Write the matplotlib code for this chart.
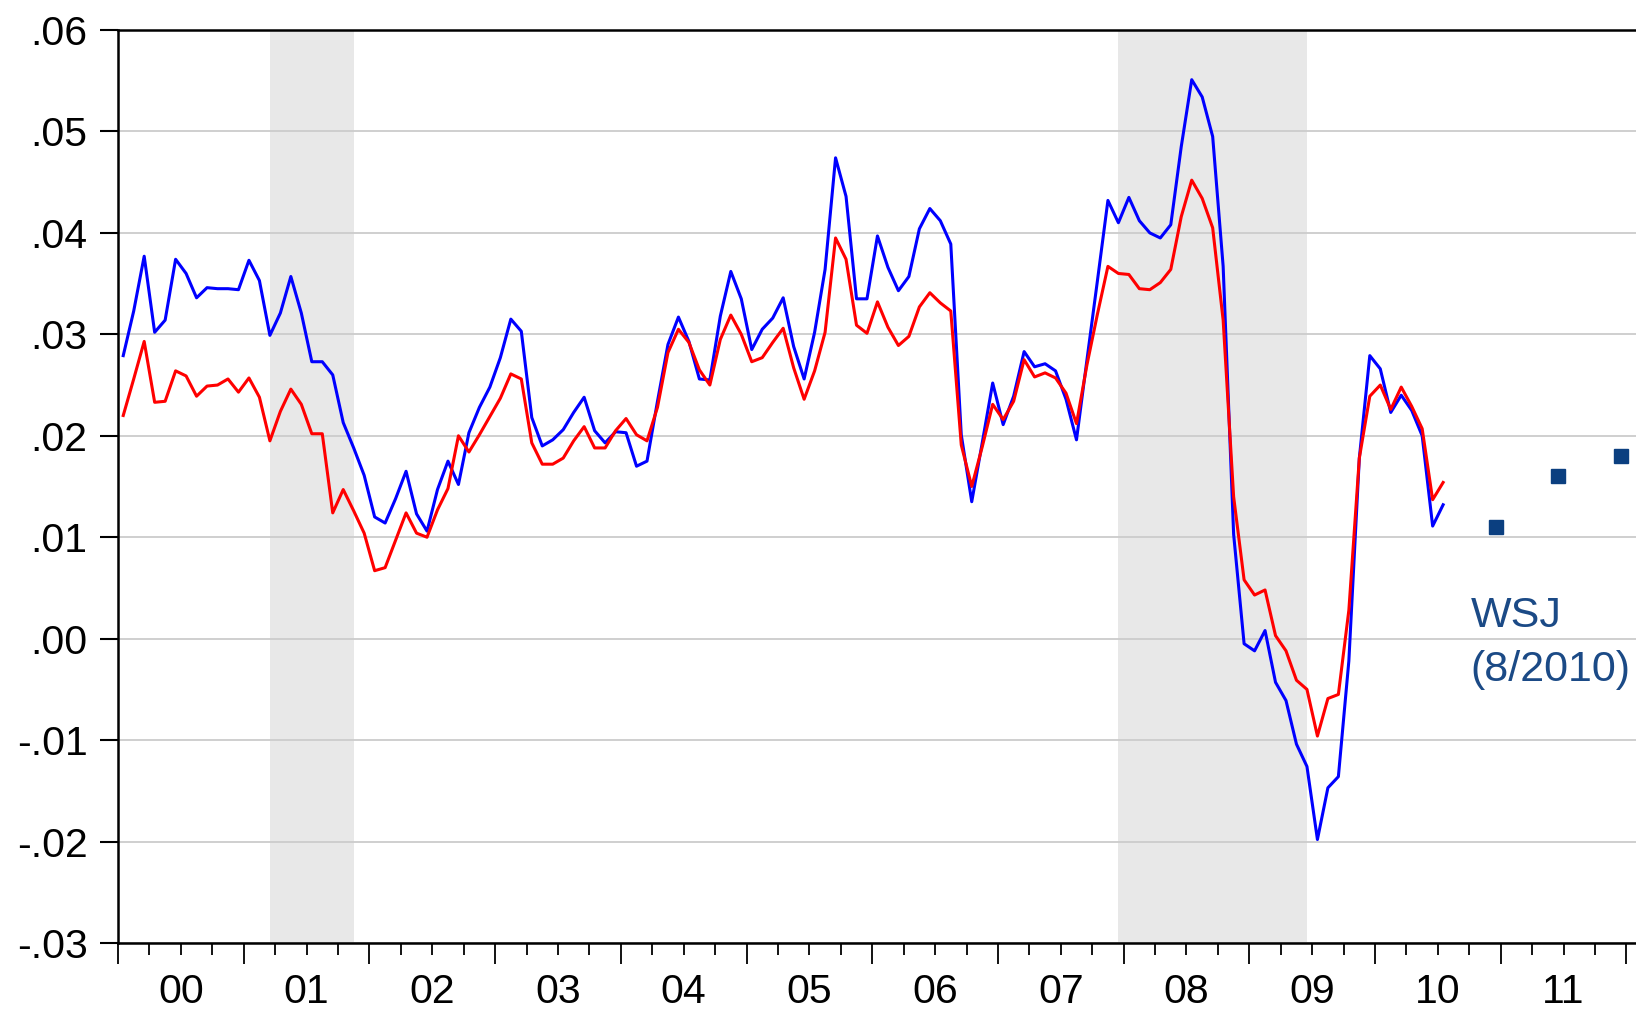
import numpy as np
import matplotlib
matplotlib.use("Agg")
import matplotlib.pyplot as plt

plt.rcParams['font.family'] = ['Liberation Sans', 'DejaVu Sans']

# monthly series, Jan 2000 - Jul 2010
blue_vals = [
    0.0279, 0.0323, 0.0377, 0.0302, 0.0314, 0.0374, 0.0360, 0.0336, 0.0346, 0.0345, 0.0345, 0.0344,
    0.0373, 0.0353, 0.0299, 0.0321, 0.0357, 0.0321, 0.0273, 0.0273, 0.0260, 0.0213, 0.0188, 0.0161,
    0.0120, 0.0114, 0.0138, 0.0165, 0.0123, 0.0106, 0.0147, 0.0175, 0.0152, 0.0203, 0.0228, 0.0248,
    0.0277, 0.0315, 0.0303, 0.0218, 0.0190, 0.0196, 0.0206, 0.0223, 0.0238, 0.0205, 0.0193, 0.0204,
    0.0203, 0.0170, 0.0175, 0.0234, 0.0290, 0.0317, 0.0293, 0.0256, 0.0255, 0.0318, 0.0362, 0.0335,
    0.0285, 0.0305, 0.0316, 0.0336, 0.0288, 0.0256, 0.0302, 0.0364, 0.0474, 0.0436, 0.0335, 0.0335,
    0.0397, 0.0366, 0.0343, 0.0357, 0.0404, 0.0424, 0.0412, 0.0389, 0.0201, 0.0135, 0.0193, 0.0252,
    0.0211, 0.0239, 0.0283, 0.0268, 0.0271, 0.0264, 0.0236, 0.0196, 0.0275, 0.0353, 0.0432, 0.0410,
    0.0435, 0.0412, 0.0400, 0.0395, 0.0408, 0.0485, 0.0551, 0.0534, 0.0495, 0.0367, 0.0103, -0.0005,
    -0.0012, 0.0008, -0.0043, -0.0061, -0.0104, -0.0126, -0.0198, -0.0147, -0.0136, -0.0022, 0.0178, 0.0279,
    0.0266, 0.0223, 0.0240, 0.0225, 0.0200, 0.0111, 0.0132,
]
red_vals = [
    0.0220, 0.0256, 0.0293, 0.0233, 0.0234, 0.0264, 0.0259, 0.0239, 0.0249, 0.0250, 0.0256, 0.0243,
    0.0257, 0.0238, 0.0195, 0.0224, 0.0246, 0.0231, 0.0202, 0.0202, 0.0124, 0.0147, 0.0126, 0.0104,
    0.0067, 0.0070, 0.0097, 0.0124, 0.0104, 0.0100, 0.0127, 0.0148, 0.0200, 0.0184, 0.0201, 0.0219,
    0.0237, 0.0261, 0.0256, 0.0193, 0.0172, 0.0172, 0.0178, 0.0195, 0.0209, 0.0188, 0.0188, 0.0205,
    0.0217, 0.0201, 0.0195, 0.0228, 0.0282, 0.0305, 0.0292, 0.0265, 0.0250, 0.0295, 0.0319, 0.0300,
    0.0273, 0.0277, 0.0292, 0.0306, 0.0267, 0.0236, 0.0264, 0.0302, 0.0395, 0.0374, 0.0309, 0.0301,
    0.0332, 0.0307, 0.0289, 0.0298, 0.0327, 0.0341, 0.0331, 0.0323, 0.0191, 0.0150, 0.0189, 0.0231,
    0.0216, 0.0234, 0.0275, 0.0258, 0.0262, 0.0257, 0.0242, 0.0212, 0.0270, 0.0320, 0.0367, 0.0360,
    0.0359, 0.0345, 0.0344, 0.0351, 0.0364, 0.0416, 0.0452, 0.0434, 0.0405, 0.0314, 0.0140, 0.0058,
    0.0043, 0.0048, 0.0003, -0.0012, -0.0041, -0.0050, -0.0096, -0.0059, -0.0055, 0.0028, 0.0178, 0.0239,
    0.0250, 0.0226, 0.0248, 0.0229, 0.0207, 0.0137, 0.0154,
]

# WSJ survey forecasts (Dec 2010, Jun 2011, Dec 2011)
wsj_months = [(2010, 12), (2011, 6), (2011, 12)]
wsj_vals = [0.011, 0.016, 0.018]

# NBER recessions (first and last month)
recessions = [((2001, 3), (2001, 11)), ((2007, 12), (2009, 6))]

year_labels = ['00', '01', '02', '03', '04', '05', '06', '07', '08', '09', '10', '11']


def mid_month(y, m):
    return y + (m - 0.5) / 12


t = 2000 + (np.arange(len(blue_vals)) + 0.5) / 12

fig = plt.figure(figsize=(16.36, 10.13), dpi=100)
ax = fig.add_axes([118 / 1636, 70 / 1013, 1518 / 1636, 913 / 1013])

for (y0, m0), (y1, m1) in recessions:
    ax.axvspan(mid_month(y0, m0), mid_month(y1, m1), color='#e8e8e8', lw=0, zorder=0)

ax.plot(t, blue_vals, color='#0000ff', lw=2.2, zorder=3)
ax.plot(t, red_vals, color='#ff0000', lw=2.2, zorder=4)
ax.plot([mid_month(y, m) for y, m in wsj_months], wsj_vals, 's',
        color='#0b3f80', ms=9.5, zorder=5, clip_on=False)

ax.text(2010.76, 0.0022, 'WSJ', color='#1b4a86', fontsize=31, va='center', ha='left')
ax.text(2010.76, -0.0031, '(8/2010)', color='#1b4a86', fontsize=31, va='center', ha='left')

ax.set_xlim(2000, 2012.076)
ax.set_ylim(-0.03, 0.06)

yt = np.round(np.arange(-0.03, 0.0601, 0.01), 2)
ylabs = [('%.2f' % v).replace('0.', '.') for v in yt]
ax.set_yticks(yt, labels=ylabs)

years = np.arange(2000, 2013)
ax.set_xticks(years, labels=[''] * len(years))
quarters = []
qlabels = []
for i, y in enumerate(range(2000, 2012)):
    for q in (0.25, 0.5, 0.75):
        quarters.append(y + q)
        qlabels.append(year_labels[i] if q == 0.5 else '')
ax.set_xticks(quarters, labels=qlabels, minor=True)

ax.tick_params(axis='y', direction='out', length=13, width=1.5, pad=9, labelsize=29.5)
ax.tick_params(axis='x', which='major', direction='out', length=15, width=1.3)
ax.tick_params(axis='x', which='minor', direction='out', length=8.5, width=1.3,
               pad=13, labelsize=29.5)

ax.grid(axis='y', color='#cccccc', lw=1.3)
ax.set_axisbelow(True)

for s in ('left', 'top', 'bottom'):
    ax.spines[s].set_linewidth(1.8)
ax.spines['right'].set_visible(False)

fig.savefig('out.png', dpi=100)
